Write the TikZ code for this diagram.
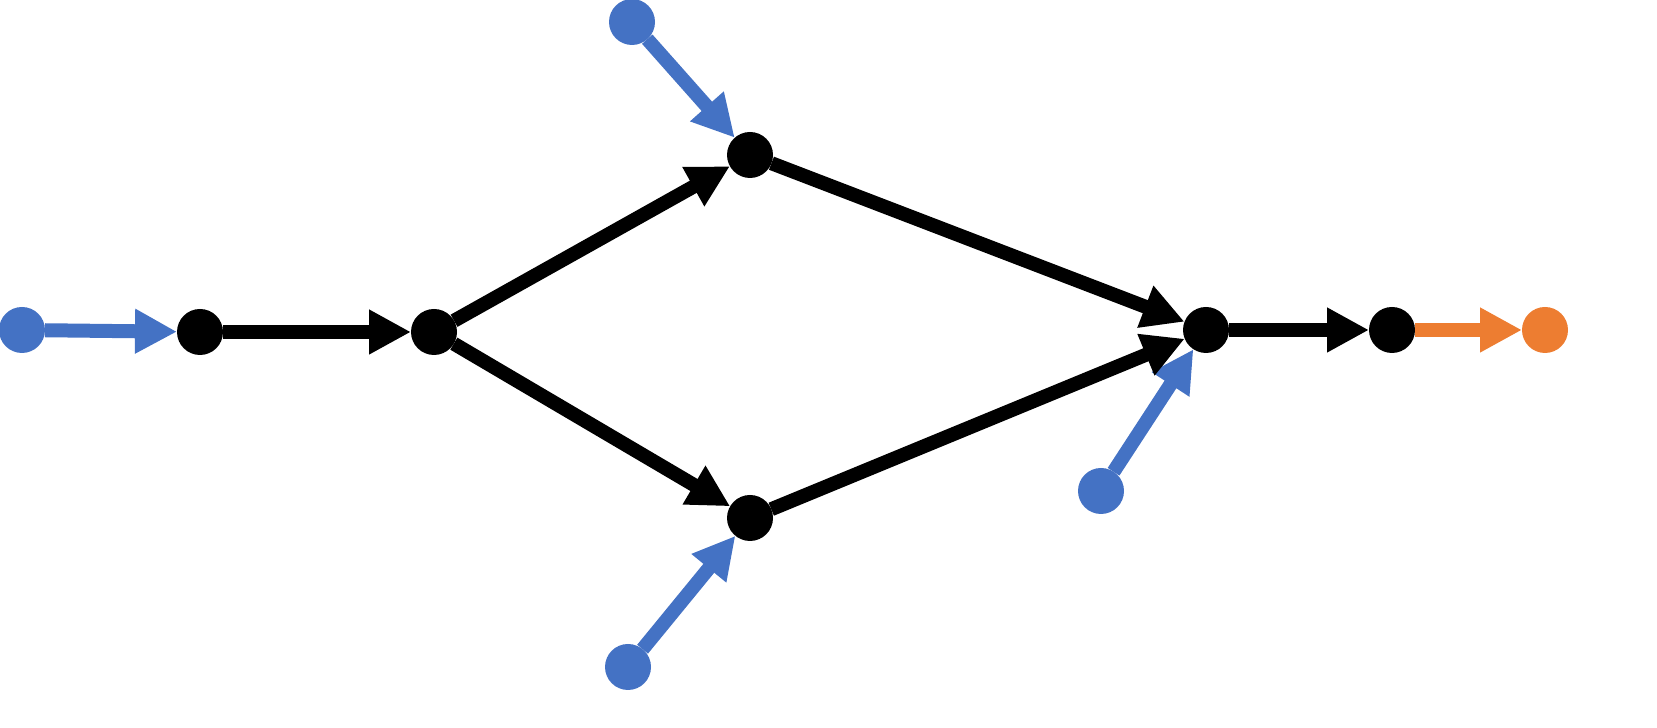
\documentclass[tikz,border=0pt]{standalone}
\usepackage{tikz}
\usetikzlibrary{arrows.meta}
\definecolor{inblue}{HTML}{4472C4}
\definecolor{outorange}{HTML}{ED7D31}
\tikzset{->, > = {Triangle[length = 4.2mm, width = 4.2mm]},
  every picture/.style = {line width = 1.4mm},
  vertex/.style = {circle, fill = black, inner sep = 0pt, outer sep = 0pt, minimum size = 4.6mm},
  source/.style = {vertex, fill = inblue},
  sink/.style = {vertex, fill = outorange}}

\begin{document}
\begin{tikzpicture}
    \useasboundingbox (0, 0) rectangle (16.57, 7.28);
    \node [source] (s) at (0.22, 3.98) {};
    \node [vertex] (v1) at (2.00, 3.96) {};
    \node [vertex] (v2) at (4.34, 3.96) {};
    \node [vertex] (v3) at (7.50, 5.73) {};
    \node [vertex] (v4) at (7.50, 2.10) {};
    \node [vertex] (v5) at (12.06, 3.98) {};
    \node [vertex] (v6) at (13.92, 3.98) {};
    \node [sink] (t) at (15.45, 3.98) {};
    \node [source] (s3) at (6.32, 7.06) {};
    \node [source] (s4) at (6.28, 0.61) {};
    \node [source] (s5) at (11.01, 2.37) {};
    % inputs
    \draw [inblue] (s) edge (v1);
    \draw [inblue] (s3) edge (v3);
    \draw [inblue] (s4) edge (v4);
    \draw [inblue] (s5) edge (v5);
    % paths
    \draw (v1) edge (v2);
    \draw (v2) edge (v3);
    \draw (v2) edge (v4);
    \draw (v3) edge (v5);
    \draw (v4) edge (v5);
    \draw (v5) edge (v6);
    % output
    \draw [outorange] (v6) edge (t);
\end{tikzpicture}
\end{document}
